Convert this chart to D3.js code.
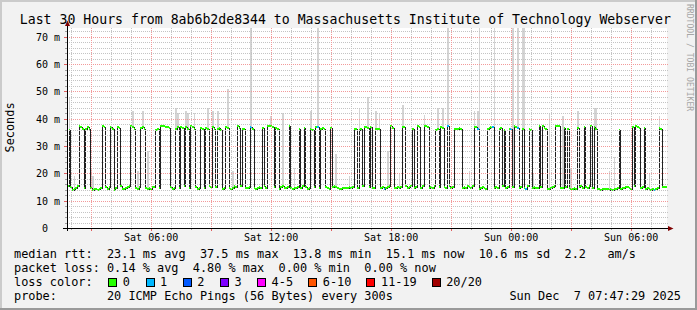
<!DOCTYPE html>
<html>
<head>
<meta charset="utf-8">
<script src="https://cdn.jsdelivr.net/npm/d3@7"></script>
<style>
  html, body { margin: 0; padding: 0; background: #f2f2f2; }
  svg { display: block; font-family: "DejaVu Sans Mono", monospace; }
  text { white-space: pre; }
</style>
</head>
<body>
<svg id="chart" width="697" height="310"></svg>
<script>
// 30 hours of 5 minute samples, Sat Dec 6 01:47:29 -> Sun Dec 7 07:47:29 (UTC used as wall clock)
const startTime = Date.UTC(2025, 11, 6, 1, 47, 29);
const stepMs = 300 * 1000;

// median rtt per sample, in ms (one row = one hour)
const medianMs = [
  15.2, 36.0, 15.1, 14.0, 14.3, 14.6, 15.4, 37.2, 37.0, 36.2, 14.8, 36.4,
  36.9, 36.3, 14.5, 13.9, 14.1, 14.2, 14.0, 14.3, 14.6, 37.3, 37.1, 14.9,
  14.4, 15.0, 36.8, 36.2, 13.8, 14.7, 36.9, 36.5, 15.3, 14.2, 14.1, 14.5,
  14.9, 15.2, 37.2, 37.0, 36.4, 14.6, 14.3, 15.1, 36.7, 36.9, 36.3, 14.8,
  14.2, 14.6, 14.4, 15.0, 14.9, 35.9, 36.4, 14.7, 37.4, 37.4, 37.3, 37.1,
  37.0, 36.6, 15.1, 14.3, 14.6, 36.2, 36.8, 14.5, 37.1, 36.6, 15.2, 36.9,
  36.4, 14.7, 37.2, 36.8, 36.3, 15.0, 14.4, 14.8, 36.6, 36.1, 14.6, 36.7,
  36.2, 15.3, 14.9, 36.8, 36.4, 15.1, 36.3, 36.5, 36.0, 14.4, 14.7, 36.9,
  36.5, 14.6, 14.2, 14.8, 15.2, 14.9, 37.2, 36.7, 15.4, 36.3, 36.1, 14.8,
  14.5, 15.0, 36.9, 36.4, 14.7, 14.3, 14.6, 15.1, 14.8, 36.5, 15.2, 14.6,
  37.5, 37.4, 37.3, 36.9, 15.0, 36.6, 36.2, 14.4, 14.9, 15.3, 14.7, 14.5,
  15.1, 37.3, 14.6, 14.3, 14.8, 14.5, 15.0, 36.1, 14.7, 15.2, 36.5, 14.9,
  14.4, 14.8, 36.3, 36.0, 15.1, 36.8, 37.1, 14.7, 36.4, 36.7, 36.2, 15.0,
  14.6, 14.3, 36.6, 14.9, 15.3, 15.1, 14.7, 14.2, 14.4, 14.6, 14.5, 14.8,
  14.7, 15.0, 14.6, 14.9, 36.2, 36.4, 14.8, 36.0, 36.3, 15.2, 37.0, 36.8,
  36.5, 15.1, 36.9, 14.6, 14.8, 36.2, 36.4, 36.1, 14.7, 15.0, 14.3, 14.5,
  14.9, 15.3, 37.2, 36.6, 14.8, 14.5, 15.1, 14.7, 15.0, 37.1, 36.9, 15.2,
  14.6, 14.9, 15.3, 36.1, 14.5, 15.0, 37.4, 36.8, 14.7, 15.2, 37.5, 37.3,
  36.9, 14.8, 15.1, 14.6, 15.4, 36.0, 36.3, 14.9, 37.0, 36.6, 15.0, 14.7,
  37.3, 15.2, 14.8, 15.1, 36.2, 36.4, 36.3, 36.5, 36.1, 14.6, 15.0, 14.7,
  15.3, 14.9, 14.5, 15.2, 37.1, 36.8, 36.4, 14.4, 14.7, 15.1, 14.6, 14.3,
  36.2, 36.6, 37.0, 36.9, 14.5, 15.0, 14.8, 36.3, 36.5, 15.2, 36.0, 14.6,
  14.9, 36.4, 36.1, 15.1, 37.3, 37.1, 36.7, 14.8, 15.0, 36.2, 14.5, 14.3,
  15.2, 36.4, 36.0, 14.7, 15.1, 14.8, 14.6, 37.4, 15.0, 37.2, 36.6, 36.3,
  14.4, 14.2, 14.7, 15.1, 15.3, 37.3, 37.5, 37.2, 14.6, 14.8, 36.5, 15.0,
  36.1, 14.6, 14.3, 14.2, 14.5, 14.4, 36.6, 14.9, 15.2, 14.7, 36.9, 15.0,
  14.8, 15.3, 37.4, 14.7, 37.0, 36.4, 14.3, 14.1, 14.0, 14.2, 14.4, 14.1,
  14.3, 14.0, 14.2, 13.9, 14.1, 14.4, 14.6, 35.8, 14.3, 14.8, 14.5, 14.9,
  15.0, 14.6, 14.4, 37.1, 15.2, 37.4, 37.0, 36.5, 14.7, 14.9, 36.6, 14.2,
  14.5, 14.3, 14.0, 14.4, 13.8, 14.2, 14.6, 36.7, 36.3, 15.0, 14.9, 15.1
];

// samples that lost one of the 20 pings
const lossOneSamples = [110, 150, 190, 228, 246, 255, 266, 270, 275, 352];

// smoke: sample index and highest ping of that sample (ms)
const smokeIdx = [1, 4, 14, 15, 39, 42, 45, 48, 65, 66, 71, 72, 76, 84, 87, 90, 96, 99, 110,
  122, 129, 136, 146, 150, 161, 169, 175, 180, 185, 187, 192, 199, 201, 214, 222, 225, 228,
  241, 244, 246, 247, 256, 267, 270, 273, 274, 279, 289, 297, 302, 306, 316, 317, 325, 328,
  349, 355];
const smokeTop = [48, 19, 22, 19, 43, 21, 43, 28, 44, 42, 43, 42, 42, 44, 43, 43, 51, 21, 80,
  41, 42, 22, 43, 80, 27, 19, 44, 48, 43, 42, 28, 20, 45, 41.5, 44, 44, 80,
  21, 43, 43, 80, 80, 80, 80, 80, 80, 20, 42, 41, 22, 43, 44, 44, 21, 26,
  20, 41];

const lossLabels = ["0", "1", "2", "3", "4-5", "6-10", "11-19", "20/20"];
const lossColors = ["#26ff00", "#00b8ff", "#0059ff", "#7e00ff", "#ff00ff", "#ff5500", "#ff0000", "#a00000"];

const titleText = "Last 30 Hours from 8ab6b2de8344 to Massachusetts Institute of Technology Webserver";
const legendLines = [
  "median rtt:  23.1 ms avg  37.5 ms max  13.8 ms min  15.1 ms now  10.6 ms sd  2.2   am/s",
  "packet loss: 0.14 % avg  4.80 % max  0.00 % min  0.00 % now",
  "loss color:",
  "probe:       20 ICMP Echo Pings (56 Bytes) every 300s"
];
const stampText = "Sun Dec  7 07:47:29 2025";

const W = 697, H = 310;
const plot = { left: 67, right: 667, top: 28, bottom: 228 };

const svg = d3.select("#chart");

// frame
svg.append("rect").attr("width", W).attr("height", H).attr("fill", "#f2f2f2");
svg.append("rect").attr("x", 0).attr("y", 0).attr("width", W).attr("height", 2).attr("fill", "#cbcbcb");
svg.append("rect").attr("x", 0).attr("y", 0).attr("width", 2).attr("height", H).attr("fill", "#cbcbcb");
svg.append("rect").attr("x", 0).attr("y", H - 2).attr("width", W).attr("height", 2).attr("fill", "#9a9a9a");
svg.append("rect").attr("x", W - 2).attr("y", 0).attr("width", 2).attr("height", H).attr("fill", "#9a9a9a");

// canvas
svg.append("rect")
  .attr("x", plot.left).attr("y", plot.top)
  .attr("width", plot.right - plot.left).attr("height", plot.bottom - plot.top)
  .attr("fill", "#ffffff");

const x = d3.scaleUtc()
  .domain([new Date(startTime), new Date(startTime + medianMs.length * stepMs)])
  .range([plot.left, plot.right]);
const y = d3.scaleLinear().domain([0, 73.2]).range([plot.bottom, plot.top]);

const px = v => Math.round(v);
const sampleTime = i => new Date(startTime + i * stepMs);

svg.append("clipPath").attr("id", "plotclip")
  .append("rect")
  .attr("x", plot.left).attr("y", plot.top)
  .attr("width", plot.right - plot.left).attr("height", plot.bottom - plot.top);

const g = svg.append("g").attr("clip-path", "url(#plotclip)");

// smoke
const smoke = smokeIdx.map((i, k) => ({ i, top: smokeTop[k], med: medianMs[i] }));
g.selectAll(".smoke").data(smoke).enter().append("rect")
  .attr("class", "smoke")
  .attr("x", d => px(x(sampleTime(d.i))))
  .attr("width", d => Math.max(1, px(x(sampleTime(d.i + 1))) - px(x(sampleTime(d.i)))))
  .attr("y", d => Math.max(plot.top, px(y(d.top))))
  .attr("height", d => px(y(d.med)) - Math.max(plot.top, px(y(d.top))))
  .attr("fill", "#d4d4d4");

// grid (drawn over the smoke, like rrdtool)
const grid = svg.append("g").attr("shape-rendering", "crispEdges");
const minorY = d3.range(2, 73, 2).filter(v => v % 10 !== 0);
const majorY = y.ticks(7).filter(v => v > 0);
grid.selectAll(".hmin").data(minorY).enter().append("line")
  .attr("x1", plot.left).attr("x2", plot.right + 1)
  .attr("y1", d => px(y(d)) + 0.5).attr("y2", d => px(y(d)) + 0.5)
  .attr("stroke", "#c4c4c4").attr("stroke-dasharray", "1,1");

const hourTicks = x.ticks(d3.utcHour.every(1));
const majorX = x.ticks(d3.utcHour.every(3));
const majorSet = new Set(majorX.map(d => +d));
grid.selectAll(".vmin").data(hourTicks.filter(d => !majorSet.has(+d))).enter().append("line")
  .attr("y1", plot.top).attr("y2", plot.bottom)
  .attr("x1", d => px(x(d)) + 0.5).attr("x2", d => px(x(d)) + 0.5)
  .attr("stroke", "#c4c4c4").attr("stroke-dasharray", "1,1");
grid.selectAll(".hmaj").data(majorY).enter().append("line")
  .attr("x1", plot.left).attr("x2", plot.right + 1)
  .attr("y1", d => px(y(d)) + 0.5).attr("y2", d => px(y(d)) + 0.5)
  .attr("stroke", "#f29a9a").attr("stroke-dasharray", "1,1");
grid.selectAll(".vmaj").data(majorX).enter().append("line")
  .attr("y1", plot.top).attr("y2", plot.bottom)
  .attr("x1", d => px(x(d)) + 0.5).attr("x2", d => px(x(d)) + 0.5)
  .attr("stroke", "#f29a9a").attr("stroke-dasharray", "1,1");

// median line, step per sample
const pts = medianMs.map((v, i) => ({ t: sampleTime(i), v }));
pts.push({ t: sampleTime(medianMs.length), v: medianMs[medianMs.length - 1] });
const line = d3.line()
  .x(d => px(x(d.t)) + 0.5)
  .y(d => px(y(d.v)) + 0.5)
  .curve(d3.curveStepAfter);
g.append("path").datum(pts)
  .attr("d", line)
  .attr("fill", "none")
  .attr("stroke", "#202020")
  .attr("stroke-width", 1)
  .attr("shape-rendering", "crispEdges");

// loss colour band on the median
const lossSet = new Set(lossOneSamples);
g.selectAll(".band").data(medianMs.map((v, i) => ({ i, v }))).enter().append("rect")
  .attr("class", "band")
  .attr("x", d => px(x(sampleTime(d.i))))
  .attr("width", d => Math.max(1, px(x(sampleTime(d.i + 1))) - px(x(sampleTime(d.i)))))
  .attr("y", d => px(y(d.v)) - 1)
  .attr("height", 2)
  .attr("fill", d => lossColors[lossSet.has(d.i) ? 1 : 0]);

// axes
const axes = svg.append("g").attr("shape-rendering", "crispEdges");
axes.selectAll(".tyMin").data(minorY).enter().append("line")
  .attr("x1", plot.left - 2).attr("x2", plot.left)
  .attr("y1", d => px(y(d)) + 0.5).attr("y2", d => px(y(d)) + 0.5)
  .attr("stroke", "#a0a0a0");
axes.selectAll(".tyMaj").data(majorY).enter().append("line")
  .attr("x1", plot.left - 3).attr("x2", plot.left)
  .attr("y1", d => px(y(d)) + 0.5).attr("y2", d => px(y(d)) + 0.5)
  .attr("stroke", "#e06060");
axes.selectAll(".txMin").data(hourTicks).enter().append("line")
  .attr("y1", plot.bottom).attr("y2", plot.bottom + 2)
  .attr("x1", d => px(x(d)) + 0.5).attr("x2", d => px(x(d)) + 0.5)
  .attr("stroke", "#a0a0a0");
axes.selectAll(".txMaj").data(majorX).enter().append("line")
  .attr("y1", plot.bottom).attr("y2", plot.bottom + 3)
  .attr("x1", d => px(x(d)) + 0.5).attr("x2", d => px(x(d)) + 0.5)
  .attr("stroke", "#e06060");

axes.append("line")
  .attr("x1", plot.left + 0.5).attr("x2", plot.left + 0.5)
  .attr("y1", plot.bottom + 3).attr("y2", plot.top - 3)
  .attr("stroke", "#000");
axes.append("line")
  .attr("x1", plot.left - 4).attr("x2", plot.right + 2)
  .attr("y1", plot.bottom + 0.5).attr("y2", plot.bottom + 0.5)
  .attr("stroke", "#000");
svg.append("path")
  .attr("d", `M${plot.left - 2},${plot.top - 2} L${plot.left + 3},${plot.top - 2} L${plot.left + 0.5},${plot.top - 7.5} Z`)
  .attr("fill", "#7f0000");
svg.append("path")
  .attr("d", `M${plot.right + 1},${plot.bottom - 2} L${plot.right + 1},${plot.bottom + 3} L${plot.right + 6.5},${plot.bottom + 0.5} Z`)
  .attr("fill", "#7f0000");

// y labels
svg.selectAll(".ylab").data(y.ticks(7)).enter().append("text")
  .attr("x", 60)
  .attr("y", d => px(y(d)) + 4)
  .attr("text-anchor", "end")
  .attr("font-size", 10)
  .attr("fill", "#000")
  .text(d => d === 0 ? "0  " : `${d} m`);

// x labels
const labelTicks = x.ticks(d3.utcHour.every(6));
const fmt = d3.utcFormat("%a %H:%M");
svg.selectAll(".xlab").data(labelTicks).enter().append("text")
  .attr("x", d => x(d))
  .attr("y", 241)
  .attr("text-anchor", "middle")
  .attr("font-size", 10)
  .attr("fill", "#000")
  .text(d => fmt(d));

// title
svg.append("text")
  .attr("x", 19.8).attr("y", 24)
  .attr("font-size", 13.2)
  .attr("fill", "#000")
  .text(titleText);

// vertical label
svg.append("text")
  .attr("transform", "translate(14,127.5) rotate(-90)")
  .attr("text-anchor", "middle")
  .attr("font-size", 11.88)
  .attr("fill", "#000")
  .text("Seconds");

// watermark
svg.append("text")
  .attr("transform", "translate(686.5,4) rotate(90)")
  .attr("font-size", 8.1)
  .attr("fill", "#a6a6a6")
  .text("RRDTOOL / TOBI OETIKER");

// legend
const legendY = [258, 272, 286, 299.5];
svg.selectAll(".leg").data(legendLines).enter().append("text")
  .attr("x", 14)
  .attr("y", (d, i) => legendY[i])
  .attr("font-size", 11.88)
  .attr("fill", "#000")
  .text(d => d);

let cursor = 108.3;
lossLabels.forEach((lab, k) => {
  svg.append("rect")
    .attr("x", Math.round(cursor) + 0.5).attr("y", 278.5)
    .attr("width", 8).attr("height", 8)
    .attr("fill", lossColors[k]).attr("stroke", "#000")
    .attr("shape-rendering", "crispEdges");
  svg.append("text")
    .attr("x", cursor + 14.5).attr("y", legendY[2])
    .attr("font-size", 11.88)
    .attr("fill", "#000")
    .text(lab);
  cursor += 15 + lab.length * 7.0 + 15.2;
});

svg.append("text")
  .attr("x", 681).attr("y", legendY[3])
  .attr("text-anchor", "end")
  .attr("font-size", 11.88)
  .attr("fill", "#000")
  .text(stampText);
</script>
</body>
</html>
